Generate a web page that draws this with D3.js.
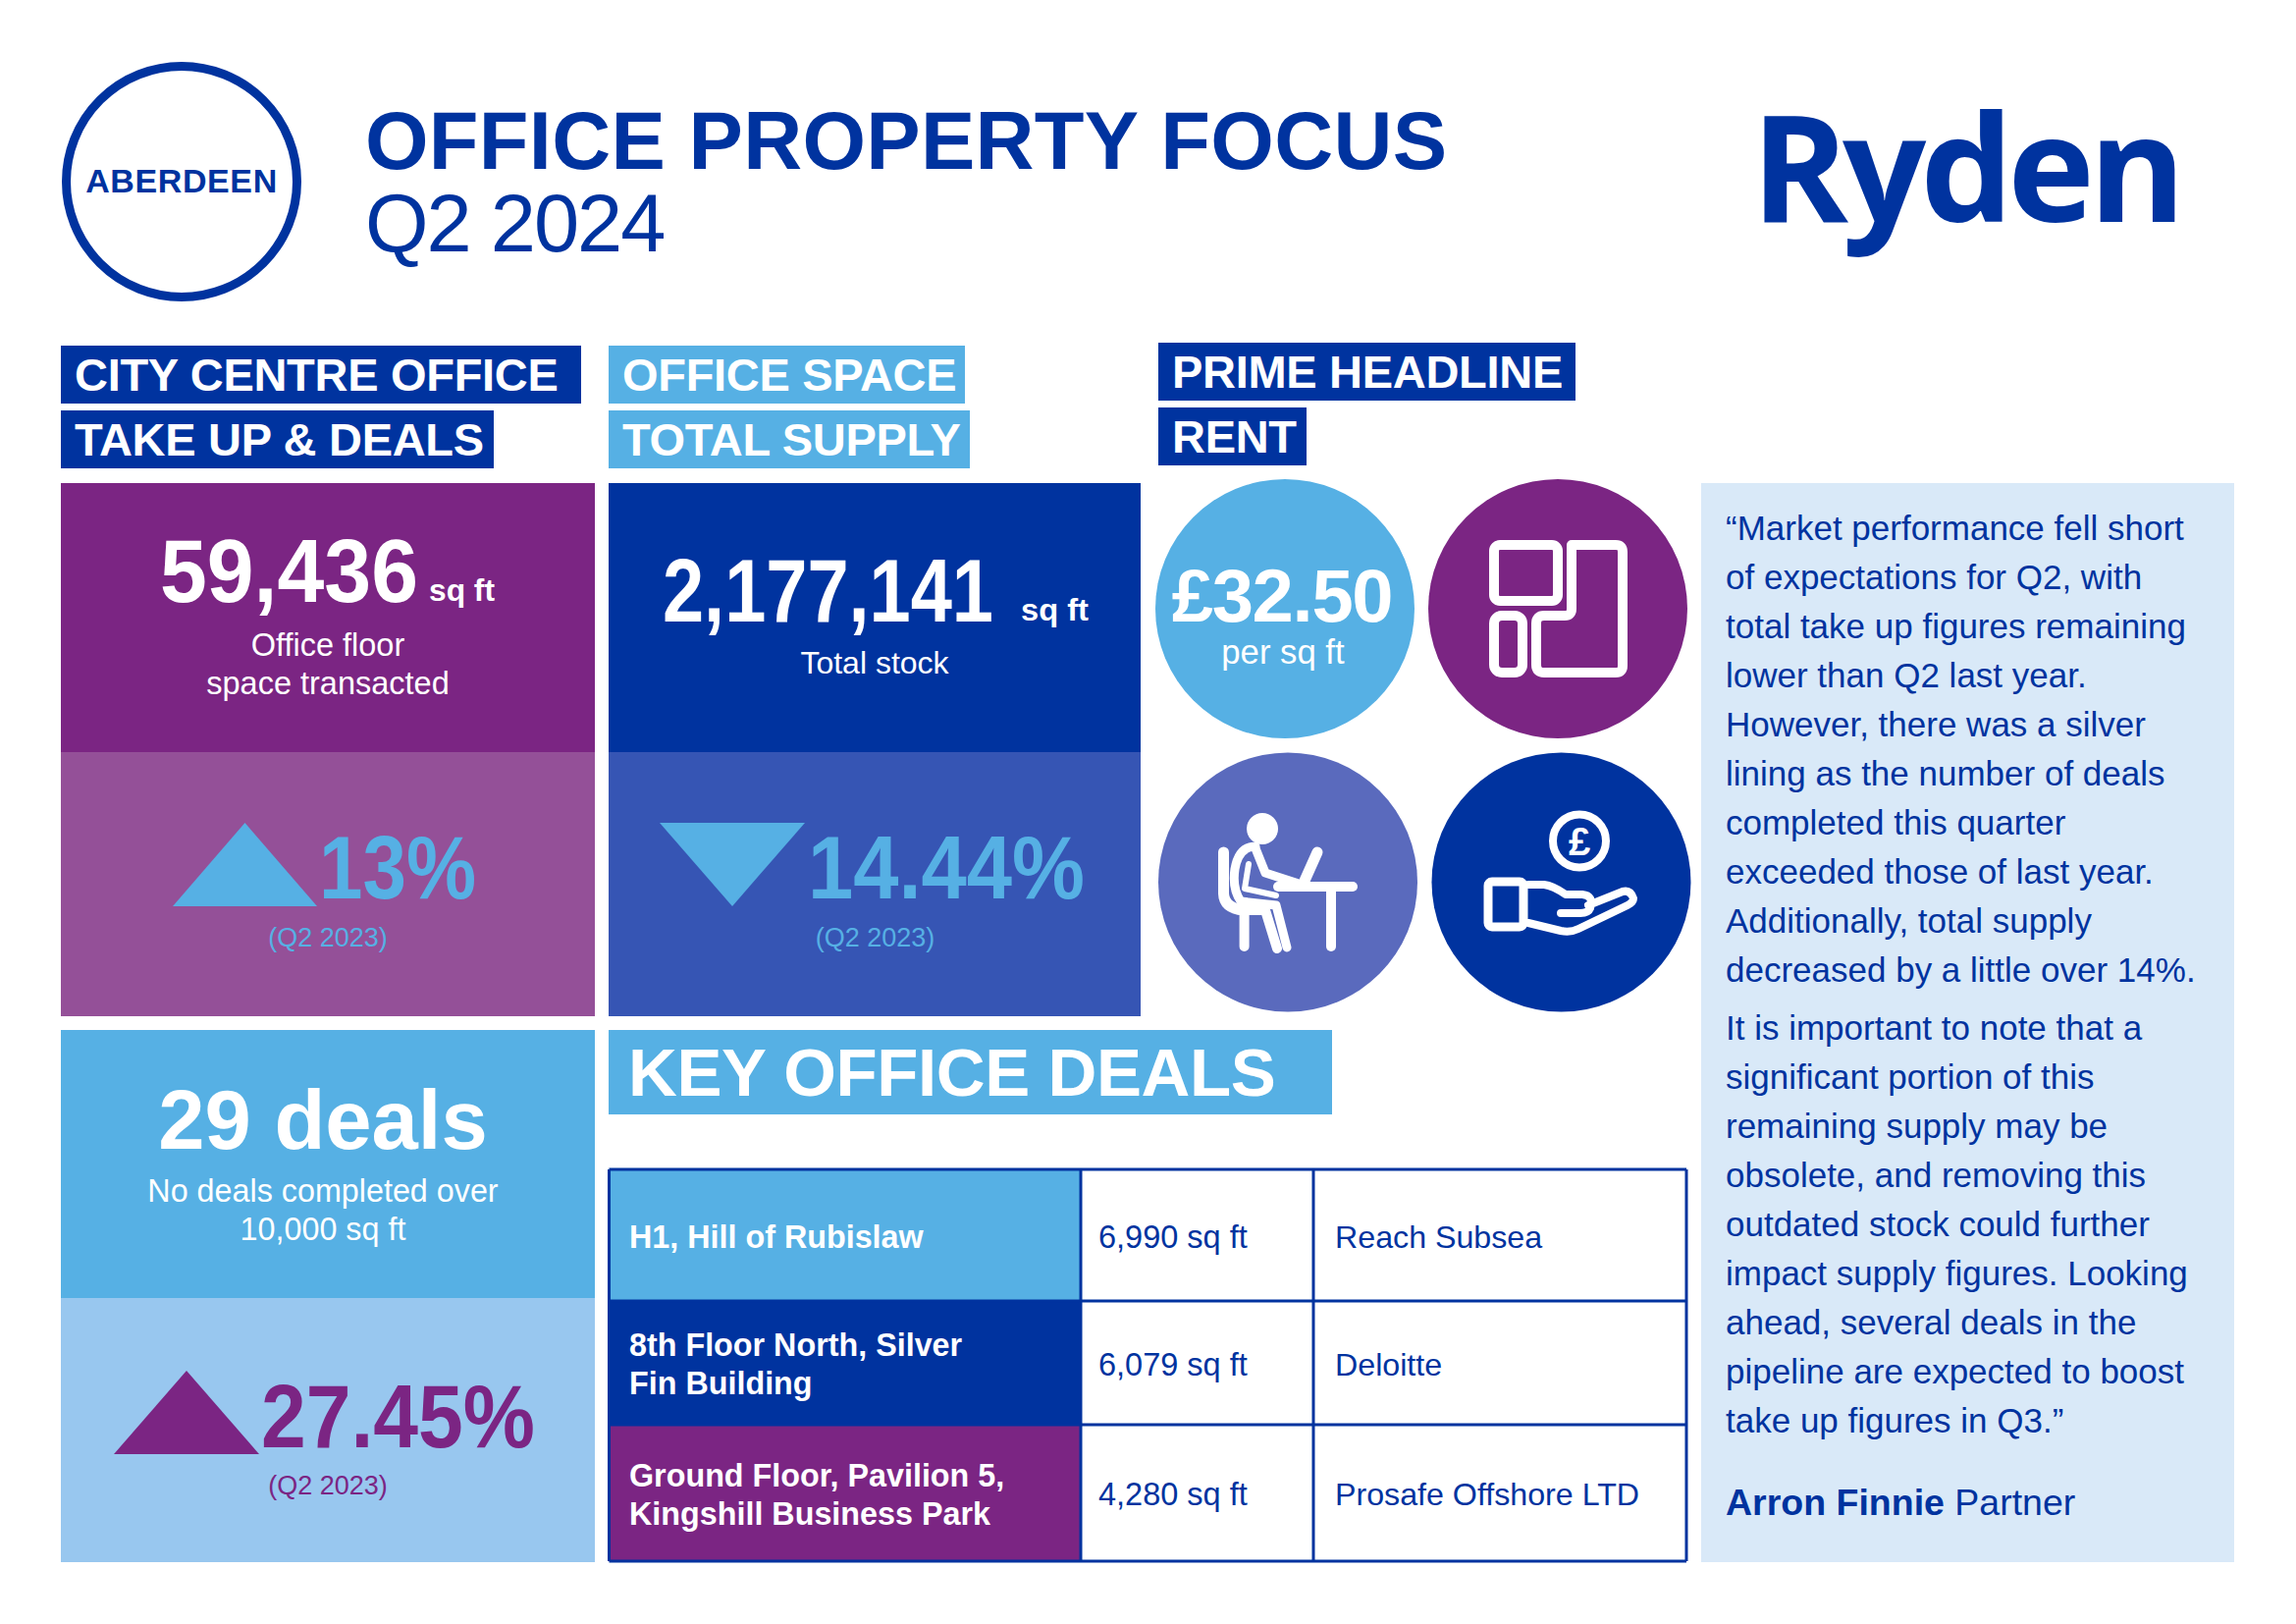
<!DOCTYPE html>
<meta charset="utf-8">
<script src="https://d3js.org/d3.v7.min.js"></script>
<style>
  body { margin: 0; background: #fff; }
  text { font-family: "Liberation Sans", Arial, sans-serif; }
</style>
<body>
<div id="my_dataviz"></div>
<script>

// values
var titleLines = ["OFFICE PROPERTY FOCUS", "Q2 2024"]
var cityName = "ABERDEEN"
var headings = ["CITY CENTRE OFFICE", "TAKE UP & DEALS", "OFFICE SPACE", "TOTAL SUPPLY", "PRIME HEADLINE", "RENT"]
var headlineFigures = ["59,436", "2,177,141", "29 deals", "£32.50"]
var changeFigures = ["13%", "14.44%", "27.45%"]
var changeDirections = ["up", "down", "up"]
var comparePeriod = "(Q2 2023)"
var dealAddress = [["H1, Hill of Rubislaw"], ["8th Floor North, Silver", "Fin Building"], ["Ground Floor, Pavilion 5,", "Kingshill Business Park"]]
var dealSize = ["6,990 sq ft", "6,079 sq ft", "4,280 sq ft"]
var dealTenant = ["Reach Subsea", "Deloitte", "Prosafe Offshore LTD"]
var quoteLines = [
  "“Market performance fell short", "of expectations for Q2, with", "total take up figures remaining",
  "lower than Q2 last year.", "However, there was a silver", "lining as the number of deals",
  "completed this quarter", "exceeded those of last year.", "Additionally, total supply",
  "decreased by a little over 14%."
]
var quoteLines2 = [
  "It is important to note that a", "significant portion of this", "remaining supply may be",
  "obsolete, and removing this", "outdated stock could further", "impact supply figures. Looking",
  "ahead, several deals in the", "pipeline are expected to boost", "take up figures in Q3.”"
]

var navy = "#00339f", purple = "#7b2583", sky = "#56b0e4", plum = "#945098",
    midblue = "#3655b4", periwinkle = "#5a6abd", pale = "#98c7ef", mist = "#d9e9f8"

var width = 2339, height = 1654
var svg = d3.select("#my_dataviz").append("svg")
  .attr("width", width)
  .attr("height", height)
  .style("display", "block")

function label(x, y, str, size, fill, weight, anchor, spacing) {
  return svg.append("text")
    .attr("x", x).attr("y", y)
    .attr("font-size", size)
    .attr("fill", fill)
    .attr("font-weight", weight || "normal")
    .attr("text-anchor", anchor || "start")
    .attr("letter-spacing", spacing || 0)
    .text(str)
}
// big figures are set narrower in the original, squeeze the glyphs to fit
function squeezed(x, y, str, size, fill, len) {
  var t = label(0, 0, str, size, fill, "bold")
  var sx = len / t.node().getComputedTextLength()
  return t.attr("transform", "translate(" + x + "," + y + ") scale(" + sx + ",1)")
}
function box(x0, y0, x1, y1, fill) {
  return svg.append("rect").attr("x", x0).attr("y", y0)
    .attr("width", x1 - x0).attr("height", y1 - y0).attr("fill", fill)
}

// header
svg.append("circle").attr("cx", 185).attr("cy", 185).attr("r", 117.5)
  .attr("fill", "none").attr("stroke", navy).attr("stroke-width", 9)
label(185, 196, cityName, 34, navy, "bold", "middle", 0.6)
label(372, 172, titleLines[0], 83, navy, "bold", "start", 0.3)
label(372, 256, titleLines[1], 83, navy, "normal", "start", -2)
label(1784, 226, "Ryden", 150, navy, "bold").style("font-family", "'Open Sans'").attr("letter-spacing", -6)

// section headings
var headingBoxes = [[62, 352, 592], [62, 418, 503], [620, 352, 983], [620, 418, 988], [1180, 349, 1605], [1180, 415, 1331]]
var headingFills = [navy, navy, sky, sky, navy, navy]
headings.forEach(function (h, i) {
  var b = headingBoxes[i]
  box(b[0], b[1], b[2], b[1] + 59, headingFills[i])
  label(b[0] + 14, b[1] + 46, h, 47, "#fff", "bold", "start", -0.3)
})

// the three stat panels
box(62, 492, 606, 766, purple)
box(62, 766, 606, 1035, plum)
box(620, 492, 1162, 766, navy)
box(620, 766, 1162, 1035, midblue)
box(62, 1049, 606, 1322, sky)
box(62, 1322, 606, 1591, pale)

squeezed(163, 612.5, headlineFigures[0], 90, "#fff", 263)
squeezed(437, 612, "sq ft", 32, "#fff", 67)
label(334, 668, "Office floor", 32.5, "#fff", "normal", "middle")
label(334, 707, "space transacted", 32.5, "#fff", "normal", "middle")

squeezed(675, 633, headlineFigures[1], 90, "#fff", 337)
squeezed(1040, 632, "sq ft", 32, "#fff", 69)
label(891, 686, "Total stock", 32, "#fff", "normal", "middle")

label(329, 1170, headlineFigures[2], 85, "#fff", "bold", "middle")
label(329, 1224, "No deals completed over", 32.3, "#fff", "normal", "middle")
label(329, 1263, "10,000 sq ft", 32.3, "#fff", "normal", "middle")

// change triangles
var triLine = d3.line()
var changeTriangles = [[176, 323, 923, 838, sky], [672, 820, 838, 923, sky], [116, 264, 1481, 1396, purple]]
var changeText = [[325, 915, sky, 160, 334, 964], [823, 915, sky, 282, 891.5, 964], [266, 1474, purple, 279, 334, 1522]]
changeFigures.forEach(function (f, i) {
  var a = changeTriangles[i], t = changeText[i]
  svg.append("path")
    .attr("d", triLine([[a[0], a[2]], [a[1], a[2]], [(a[0] + a[1]) / 2, a[3]]]) + "Z")
    .attr("fill", a[4])
    .attr("data-direction", changeDirections[i])
  squeezed(t[0], t[1], f, 90, t[2], t[3])
  label(t[4], t[5], comparePeriod, 27, t[2], "normal", "middle")
})

// rent circle and icon circles
var rentCircles = [[1309, 620, sky], [1587, 620, purple], [1312, 898.5, periwinkle], [1590.5, 898.5, navy]]
svg.selectAll("circle.rent").data(rentCircles).enter().append("circle")
  .attr("class", "rent")
  .attr("cx", function (d) { return d[0] })
  .attr("cy", function (d) { return d[1] })
  .attr("r", 132)
  .attr("fill", function (d) { return d[2] })
label(1306, 633, headlineFigures[3], 76, "#fff", "bold", "middle", -1.3)
label(1307, 676, "per sq ft", 34.7, "#fff", "normal", "middle")

function icon(d, w) {
  svg.append("path").attr("d", d).attr("fill", "none").attr("stroke", "#fff")
    .attr("stroke-width", w).attr("stroke-linecap", "round").attr("stroke-linejoin", "round")
}
// floor plan
svg.append("rect").attr("x", 1522).attr("y", 555).attr("width", 65).attr("height", 57).attr("rx", 6)
  .attr("fill", "none").attr("stroke", "#fff").attr("stroke-width", 10)
svg.append("rect").attr("x", 1522).attr("y", 627).attr("width", 29).attr("height", 58).attr("rx", 8)
  .attr("fill", "none").attr("stroke", "#fff").attr("stroke-width", 10)
icon("M1601 555H1646Q1653 555 1653 562V678Q1653 685 1646 685H1573Q1565 685 1565 677V635Q1565 627 1573 627H1594Q1601 627 1601 620Z", 10)
// person at a desk
svg.append("circle").attr("cx", 1286).attr("cy", 844).attr("r", 16).attr("fill", "#fff")
icon("M1246.5 868V910Q1247 925 1267 927", 11)
icon("M1267.6 927V964M1267.6 927H1289L1301 966", 10)
icon("M1279 862Q1262 862 1258 885Q1255 905 1264 918L1300 922L1311 965", 9)
icon("M1279 864L1289 889L1323 900", 9)
icon("M1272 880L1268 905L1300 912", 6)
icon("M1302 903H1378", 10)
icon("M1356 903V964", 10)
icon("M1329 897L1342 868", 11)
// hand holding a coin
svg.append("circle").attr("cx", 1609).attr("cy", 856.5).attr("r", 27)
  .attr("fill", "none").attr("stroke", "#fff").attr("stroke-width", 8)
label(1609, 871, "£", 40, "#fff", "bold", "middle")
svg.append("rect").attr("x", 1516).attr("y", 898).attr("width", 36).attr("height", 46).attr("rx", 4)
  .attr("fill", "none").attr("stroke", "#fff").attr("stroke-width", 9)
icon("M1557 901H1573Q1582 902 1595 911H1612Q1624 912 1620 925Q1618 930 1610 930H1590M1618 922L1653 908Q1661 906 1664 915Q1664 919 1658 922L1608 946Q1600 950 1590 948L1557 940", 8)

// key deals table
box(620, 1049, 1357, 1135, sky)
label(640, 1116, "KEY OFFICE DEALS", 69, "#fff", "bold", "start", -0.4)

var colEdges = [620.5, 1101, 1338, 1718]
var rowEdges = [1191, 1325, 1451, 1590]
var rowFills = [sky, navy, purple]
rowFills.forEach(function (f, i) {
  var y0 = rowEdges[i], y1 = rowEdges[i + 1], mid = (y0 + y1) / 2
  box(colEdges[0], y0, colEdges[1], y1, f)
  var lines = dealAddress[i]
  lines.forEach(function (s, j) {
    label(641, mid + 12.5 + (j - (lines.length - 1) / 2) * 39, s, 32.3, "#fff", "bold")
  })
  label(1119, mid + 12.5, dealSize[i], 32.5, navy)
  label(1360, mid + 12.5, dealTenant[i], 32.2, navy)
})
svg.append("g").selectAll("line.h").data(rowEdges).enter().append("line")
  .attr("x1", colEdges[0]).attr("x2", colEdges[3])
  .attr("y1", function (d) { return d }).attr("y2", function (d) { return d })
  .attr("stroke", navy).attr("stroke-width", 3)
svg.append("g").selectAll("line.v").data(colEdges).enter().append("line")
  .attr("y1", rowEdges[0]).attr("y2", rowEdges[3])
  .attr("x1", function (d) { return d }).attr("x2", function (d) { return d })
  .attr("stroke", navy).attr("stroke-width", 3)

// quote
box(1733, 492, 2276, 1591, mist)
quoteLines.forEach(function (s, i) { label(1758, 550 + i * 50, s, 35, navy) })
quoteLines2.forEach(function (s, i) { label(1758, 1058.5 + i * 50, s, 35, navy) })
var sign = label(1758, 1543, "Arron Finnie", 37.5, navy, "bold")
sign.append("tspan").attr("font-weight", "normal").text(" Partner")

</script>
</body>
